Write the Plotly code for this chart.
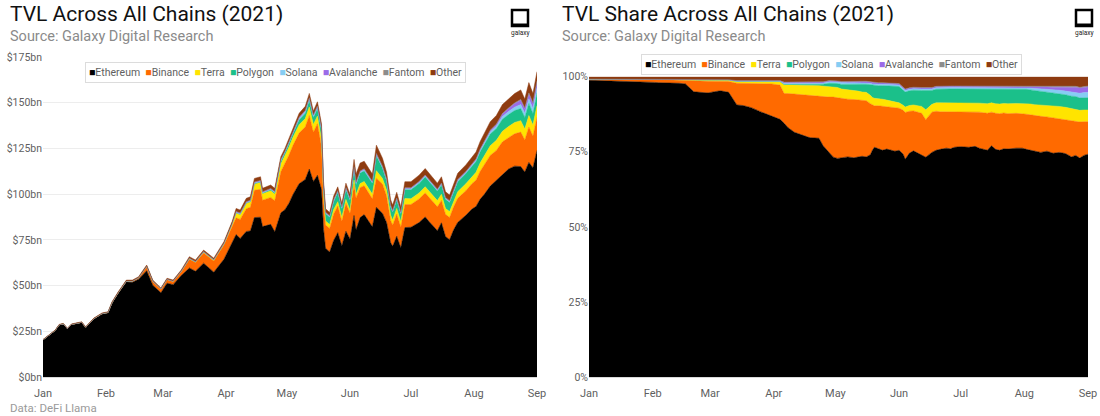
import plotly.graph_objects as go

W, H = 1100, 416

# ---- data (TVL in $bn, shares in %) ----
dates = [
    '2021-01-01', '2021-01-07', '2021-01-09', '2021-01-11', '2021-01-13', '2021-01-15',
    '2021-01-20', '2021-01-22', '2021-01-26', '2021-01-30', '2021-02-02', '2021-02-04',
    '2021-02-07', '2021-02-11', '2021-02-14', '2021-02-17', '2021-02-21', '2021-02-24',
    '2021-02-28', '2021-03-03', '2021-03-06', '2021-03-10', '2021-03-14', '2021-03-17',
    '2021-03-21', '2021-03-26', '2021-03-31', '2021-04-04', '2021-04-06', '2021-04-08',
    '2021-04-11', '2021-04-13', '2021-04-15', '2021-04-18', '2021-04-19', '2021-04-23',
    '2021-04-25', '2021-04-28', '2021-04-30', '2021-05-02', '2021-05-04', '2021-05-07',
    '2021-05-10', '2021-05-12', '2021-05-14', '2021-05-16', '2021-05-18', '2021-05-19',
    '2021-05-20', '2021-05-22', '2021-05-24', '2021-05-26', '2021-05-28', '2021-05-30',
    '2021-06-01', '2021-06-03', '2021-06-04', '2021-06-06', '2021-06-08', '2021-06-12',
    '2021-06-14', '2021-06-17', '2021-06-19', '2021-06-21', '2021-06-22', '2021-06-24',
    '2021-06-26', '2021-06-28', '2021-07-01', '2021-07-05', '2021-07-08', '2021-07-10',
    '2021-07-14', '2021-07-16', '2021-07-18', '2021-07-20', '2021-07-22', '2021-07-24',
    '2021-07-28', '2021-07-31', '2021-08-02', '2021-08-04', '2021-08-06', '2021-08-09',
    '2021-08-12', '2021-08-15', '2021-08-18', '2021-08-21', '2021-08-24', '2021-08-26',
    '2021-08-28', '2021-08-30', '2021-09-01',
]

total_tvl = [
    20.5, 25.7, 28.8, 29.3, 26.7, 29.0, 30.2, 27.5, 32.2, 35.0, 35.7, 41.2,
    46.6, 53.0, 53.0, 54.8, 61.2, 53.0, 48.7, 54.0, 53.0, 58.5, 65.8, 64.0,
    69.4, 65.0, 74.0, 84.9, 92.2, 91.3, 97.7, 98.6, 108.6, 109.5, 103.2, 105.0,
    103.2, 120.5, 125.0, 130.5, 136.8, 144.2, 148.0, 155.1, 145.5, 150.5, 138.5, 107.0,
    92.0, 90.0, 99.0, 104.0, 95.0, 106.0, 100.0, 119.0, 111.0, 117.0, 118.0, 111.0,
    126.8, 119.6, 112.0, 97.0, 94.0, 101.0, 93.0, 106.8, 106.8, 110.4, 114.0, 111.4,
    106.0, 109.5, 101.3, 99.5, 105.9, 111.4, 116.0, 120.5, 123.0, 128.7, 133.0, 139.6,
    143.0, 149.0, 152.0, 155.0, 157.0, 152.0, 161.0, 155.0, 167.0,
]

ethereum = [
    98.8, 98.7, 98.7, 98.6, 98.6, 98.5, 98.4, 98.4, 98.3, 98.2, 98.1, 98.0,
    98.0, 97.9, 97.8, 97.6, 95.0, 94.8, 94.6, 95.0, 95.3, 94.8, 90.6, 90.4,
    89.7, 88.2, 87.0, 85.8, 84.5, 83.0, 81.5, 81.0, 80.3, 79.8, 79.7, 79.5,
    77.0, 74.5, 73.2, 72.8, 73.0, 73.3, 73.0, 73.3, 73.5, 73.3, 74.0, 75.5,
    76.5, 76.0, 75.5, 75.9, 75.6, 75.2, 75.5, 74.2, 72.5, 74.5, 75.3, 74.0,
    73.2, 74.8, 75.5, 75.8, 76.0, 76.2, 76.0, 76.5, 76.7, 76.5, 76.8, 76.2,
    75.5, 77.0, 75.8, 75.5, 76.0, 75.9, 76.2, 76.2, 75.8, 75.5, 75.0, 74.8,
    75.2, 74.5, 74.8, 74.4, 73.3, 73.8, 72.9, 73.8, 74.2,
]
binance = [
    0.3, 0.4, 0.4, 0.5, 0.5, 0.6, 0.6, 0.6, 0.7, 0.8, 0.8, 0.9,
    0.9, 1.0, 1.0, 1.2, 3.7, 3.8, 3.9, 3.5, 3.2, 3.6, 7.2, 7.4,
    8.1, 9.5, 10.6, 11.4, 9.9, 11.4, 12.7, 13.1, 13.7, 14.0, 14.0, 14.0,
    16.4, 18.7, 20.0, 20.2, 19.6, 19.2, 19.4, 18.9, 18.5, 18.7, 17.0, 15.0,
    13.8, 14.3, 14.6, 14.0, 14.1, 14.4, 14.0, 14.6, 15.6, 14.0, 13.3, 13.8,
    12.5, 13.4, 13.0, 12.5, 12.3, 12.0, 12.1, 11.8, 11.6, 11.7, 11.5, 12.0,
    12.3, 11.2, 12.0, 12.2, 11.9, 11.8, 11.6, 11.5, 11.7, 11.8, 12.0, 12.0,
    11.4, 11.8, 11.3, 11.4, 12.0, 11.5, 12.0, 11.2, 10.8,
]
terra = [
    0.1, 0.1, 0.1, 0.1, 0.1, 0.1, 0.1, 0.1, 0.1, 0.1, 0.1, 0.1,
    0.1, 0.1, 0.2, 0.2, 0.3, 0.3, 0.4, 0.4, 0.4, 0.5, 0.6, 0.6,
    0.7, 0.8, 0.9, 1.2, 2.9, 2.9, 3.0, 3.1, 3.2, 3.3, 3.4, 3.5,
    3.5, 3.5, 3.4, 3.4, 3.3, 3.2, 3.1, 3.0, 2.9, 2.8, 2.8, 2.6,
    2.5, 2.4, 2.4, 2.3, 2.2, 2.0, 1.8, 1.7, 1.8, 1.9, 2.0, 2.3,
    3.3, 2.6, 2.8, 3.0, 3.0, 3.1, 3.2, 3.1, 3.0, 3.0, 3.0, 3.0,
    3.2, 3.1, 3.2, 3.2, 3.2, 3.3, 3.3, 3.4, 3.5, 3.6, 3.7, 3.8,
    3.9, 3.9, 4.0, 4.0, 4.0, 3.9, 3.9, 3.9, 3.9,
]
polygon = [
    0.0, 0.0, 0.0, 0.0, 0.0, 0.0, 0.0, 0.0, 0.0, 0.0, 0.0, 0.0,
    0.0, 0.0, 0.0, 0.0, 0.0, 0.0, 0.0, 0.0, 0.0, 0.0, 0.0, 0.0,
    0.0, 0.0, 0.0, 0.0, 0.1, 0.1, 0.1, 0.1, 0.2, 0.3, 0.3, 0.5,
    0.6, 1.1, 1.2, 1.3, 1.5, 1.8, 2.0, 2.3, 2.6, 2.7, 3.5, 4.0,
    4.2, 4.3, 4.5, 4.8, 5.0, 5.2, 5.4, 5.2, 5.0, 4.9, 4.9, 5.3,
    6.4, 4.6, 4.5, 4.6, 4.6, 4.6, 4.6, 4.5, 4.6, 4.7, 4.6, 4.7,
    4.9, 4.6, 4.9, 5.0, 4.8, 4.9, 4.8, 4.8, 4.8, 4.7, 4.7, 4.6,
    4.5, 4.4, 4.3, 4.2, 4.2, 4.2, 4.1, 4.1, 4.1,
]
solana = [
    0.0, 0.0, 0.0, 0.0, 0.0, 0.0, 0.0, 0.0, 0.0, 0.0, 0.0, 0.0,
    0.0, 0.0, 0.0, 0.0, 0.0, 0.0, 0.0, 0.0, 0.0, 0.0, 0.1, 0.1,
    0.1, 0.1, 0.1, 0.1, 0.3, 0.3, 0.3, 0.3, 0.3, 0.3, 0.3, 0.3,
    0.4, 0.5, 0.5, 0.5, 0.5, 0.5, 0.5, 0.5, 0.5, 0.5, 0.5, 0.5,
    0.5, 0.5, 0.5, 0.5, 0.5, 0.5, 0.5, 0.5, 0.5, 0.5, 0.5, 0.5,
    0.5, 0.5, 0.5, 0.5, 0.5, 0.5, 0.5, 0.5, 0.5, 0.5, 0.5, 0.5,
    0.5, 0.5, 0.5, 0.5, 0.5, 0.5, 0.5, 0.5, 0.6, 0.6, 0.7, 0.8,
    0.9, 1.0, 1.1, 1.2, 1.4, 1.5, 1.6, 1.7, 1.8,
]
avalanche = [
    0.0, 0.0, 0.0, 0.0, 0.0, 0.0, 0.0, 0.0, 0.0, 0.0, 0.0, 0.0,
    0.0, 0.0, 0.0, 0.0, 0.0, 0.1, 0.1, 0.1, 0.1, 0.1, 0.2, 0.2,
    0.2, 0.2, 0.2, 0.2, 0.4, 0.4, 0.4, 0.4, 0.4, 0.4, 0.4, 0.3,
    0.3, 0.3, 0.3, 0.3, 0.4, 0.4, 0.4, 0.4, 0.4, 0.4, 0.4, 0.4,
    0.4, 0.4, 0.4, 0.4, 0.4, 0.4, 0.4, 0.4, 0.4, 0.4, 0.4, 0.4,
    0.4, 0.4, 0.4, 0.4, 0.4, 0.4, 0.4, 0.4, 0.4, 0.4, 0.4, 0.4,
    0.4, 0.4, 0.4, 0.4, 0.4, 0.4, 0.4, 0.4, 0.4, 0.5, 0.5, 0.6,
    0.7, 0.9, 1.1, 1.3, 1.5, 1.6, 1.7, 1.8, 1.8,
]
fantom = [
    0.0, 0.0, 0.0, 0.0, 0.0, 0.0, 0.0, 0.0, 0.0, 0.0, 0.0, 0.0,
    0.0, 0.0, 0.0, 0.0, 0.0, 0.0, 0.0, 0.0, 0.0, 0.0, 0.0, 0.0,
    0.0, 0.0, 0.0, 0.0, 0.1, 0.1, 0.1, 0.1, 0.1, 0.1, 0.1, 0.1,
    0.1, 0.1, 0.1, 0.1, 0.1, 0.1, 0.1, 0.1, 0.1, 0.1, 0.1, 0.1,
    0.1, 0.1, 0.1, 0.1, 0.1, 0.1, 0.1, 0.1, 0.1, 0.1, 0.1, 0.1,
    0.1, 0.1, 0.1, 0.1, 0.1, 0.1, 0.1, 0.1, 0.1, 0.1, 0.1, 0.1,
    0.1, 0.1, 0.1, 0.1, 0.1, 0.1, 0.1, 0.1, 0.1, 0.1, 0.1, 0.1,
    0.1, 0.2, 0.2, 0.2, 0.3, 0.3, 0.3, 0.3, 0.3,
]
other = [
    0.8, 0.8, 0.8, 0.8, 0.8, 0.8, 0.9, 0.9, 0.9, 0.9, 1.0, 1.0,
    1.0, 1.0, 1.0, 1.0, 1.0, 1.0, 1.0, 1.0, 1.0, 1.0, 1.3, 1.3,
    1.2, 1.2, 1.2, 1.3, 1.8, 1.8, 1.9, 1.9, 1.8, 1.8, 1.8, 1.8,
    1.7, 1.3, 1.3, 1.4, 1.6, 1.5, 1.5, 1.5, 1.5, 1.5, 1.7, 1.9,
    2.0, 2.0, 2.0, 2.0, 2.1, 2.2, 2.3, 3.3, 4.1, 3.7, 3.5, 3.6,
    3.6, 3.6, 3.2, 3.1, 3.1, 3.1, 3.1, 3.1, 3.1, 3.1, 3.1, 3.1,
    3.1, 3.1, 3.1, 3.1, 3.1, 3.1, 3.1, 3.1, 3.1, 3.2, 3.3, 3.3,
    3.3, 3.3, 3.2, 3.3, 3.3, 3.2, 3.5, 3.2, 3.1,
]

chains = ['Ethereum', 'Binance', 'Terra', 'Polygon', 'Solana', 'Avalanche', 'Fantom', 'Other']
shares = [ethereum, binance, terra, polygon, solana, avalanche, fantom, other]
COLOURS = ['#000000', '#FF6A00', '#FFE400', '#1BC08A', '#86CDF3', '#9B6BE8', '#8C8C8C', '#8E3B10']

share_ticks = [0, 25, 50, 75, 100]
share_labels = ['0%', '25%', '50%', '75%', '100%']

FONT = 'Roboto'
GREY = '#5f5f5f'


def px_x(x):
    return x / W


def px_y(y):
    return 1 - y / H


row_sums = [sum(s[i] for s in shares) for i in range(len(dates))]

fig = go.Figure()
for name, share, colour in zip(chains, shares, COLOURS):
    absolute = [t * s / rs for t, s, rs in zip(total_tvl, share, row_sums)]
    fig.add_trace(go.Scatter(x=dates, y=absolute, name=name, stackgroup='abs',
                             mode='lines', line=dict(width=0.5, color=colour),
                             fillcolor=colour, showlegend=False, hoverinfo='skip',
                             xaxis='x', yaxis='y'))
    fig.add_trace(go.Scatter(x=dates, y=share, name=name, stackgroup='share',
                             groupnorm='percent', mode='lines',
                             line=dict(width=0.5, color=colour), fillcolor=colour,
                             showlegend=False, hoverinfo='skip', xaxis='x2', yaxis='y2'))

# invisible outside ticks push the month labels a little lower, like the reference
xcommon = dict(type='date', range=['2021-01-01', '2021-09-01'], dtick='M1',
               tick0='2021-01-01', tickformat='%b', showgrid=False, zeroline=False,
               showline=True, linecolor='#d9d9d9', linewidth=1, automargin=False,
               ticks='outside', ticklen=6, tickcolor='rgba(0,0,0,0)',
               tickfont=dict(family=FONT, size=11, color=GREY))

fig.update_layout(
    width=W, height=H, autosize=False,
    margin=dict(l=0, r=0, t=0, b=0, autoexpand=False),
    paper_bgcolor='white', plot_bgcolor='white',
    xaxis=dict(domain=[px_x(43), px_x(537)], anchor='y', **xcommon),
    yaxis=dict(domain=[px_y(377), px_y(57)], anchor='x', range=[0, 175], dtick=25,
               tickprefix='$', ticksuffix='bn', showgrid=True, gridcolor='#ededed',
               zeroline=False, automargin=False,
               tickfont=dict(family=FONT, size=10.5, color=GREY)),
    xaxis2=dict(domain=[px_x(589), px_x(1088)], anchor='y2', **xcommon),
    yaxis2=dict(domain=[px_y(377), px_y(76.7)], anchor='x2', range=[0, 100],
                tickvals=share_ticks, ticktext=share_labels, showgrid=False,
                zeroline=False, automargin=False,
                tickfont=dict(family=FONT, size=10.5, color=GREY)),
)


def legend_text():
    parts = []
    for name, colour in zip(chains, COLOURS):
        parts.append('<span style="color:%s">■</span>%s' % (colour, name))
    return '\u00a0\u00a0'.join(parts)


annotations = [
    dict(x=px_x(8), y=px_y(14), text='TVL Across All Chains (2021)', xanchor='left',
         font=dict(family=FONT, size=21, color='#111111')),
    dict(x=px_x(8), y=px_y(36), text='Source: Galaxy Digital Research', xanchor='left',
         font=dict(family=FONT, size=14.5, color='#8a8a8a')),
    dict(x=px_x(560), y=px_y(14), text='TVL Share Across All Chains (2021)', xanchor='left',
         font=dict(family=FONT, size=21, color='#111111')),
    dict(x=px_x(560), y=px_y(36), text='Source: Galaxy Digital Research', xanchor='left',
         font=dict(family=FONT, size=14.5, color='#8a8a8a')),
    dict(x=px_x(8), y=px_y(408), text='Data: DeFi Llama', xanchor='left',
         font=dict(family=FONT, size=11.5, color='#9a9a9a')),
    dict(x=px_x(275), y=px_y(72.5), text=legend_text(), xanchor='center', bgcolor='white',
         bordercolor='#dcdcdc', borderwidth=1, borderpad=3,
         font=dict(family=FONT, size=10.5, color=GREY)),
    dict(x=px_x(831), y=px_y(64), text=legend_text(), xanchor='center', bgcolor='white',
         bordercolor='#dcdcdc', borderwidth=1, borderpad=3,
         font=dict(family=FONT, size=10.5, color=GREY)),
]
shapes = []
for cx in (520, 1084):
    annotations.append(dict(x=px_x(cx), y=px_y(33), text='galaxy', xanchor='center',
                            font=dict(family=FONT, size=6.5, color='#222222')))
    shapes.append(dict(type='rect', xref='paper', yref='paper',
                       x0=px_x(cx - 8), x1=px_x(cx + 8), y0=px_y(26), y1=px_y(10),
                       line=dict(color='black', width=2.5)))
    shapes.append(dict(type='line', xref='paper', yref='paper',
                       x0=px_x(cx - 8), x1=px_x(cx + 8), y0=px_y(25), y1=px_y(25),
                       line=dict(color='black', width=3)))

for a in annotations:
    a.setdefault('xref', 'paper')
    a.setdefault('yref', 'paper')
    a.setdefault('yanchor', 'middle')
    a.setdefault('showarrow', False)

fig.update_layout(annotations=annotations, shapes=shapes)

# drop the browser's default 8px body margin so the figure fills the window
fig.write_html('out.html', config={'displayModeBar': False},
               post_script="document.body.style.margin = '0';")
